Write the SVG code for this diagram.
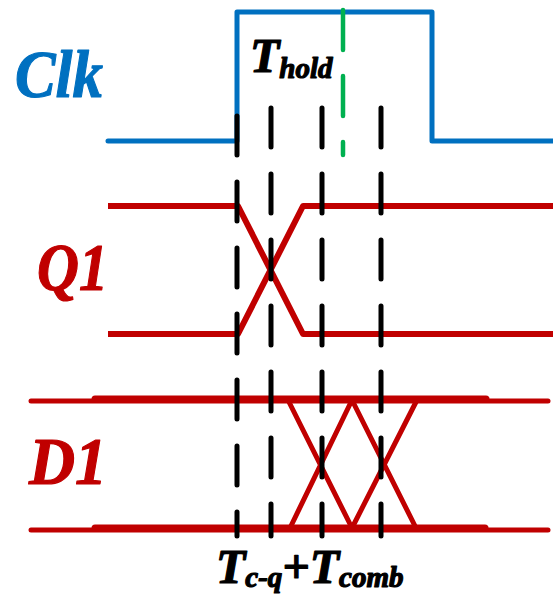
<svg xmlns="http://www.w3.org/2000/svg" width="553" height="594" viewBox="0 0 553 594">
<style>
  .lbl { font-family: "Liberation Serif", "Times New Roman", serif; font-weight: bold; font-style: italic; stroke-width: 1.2; stroke-linejoin: round; }
  .clk { fill: none; stroke: #0070C0; stroke-width: 5; stroke-linejoin: round; stroke-linecap: round; }
  .sig { fill: none; stroke: #C00000; stroke-width: 6; stroke-linejoin: round; stroke-linecap: butt; }
  .thin { fill: none; stroke: #C00000; stroke-width: 5; stroke-linecap: round; }
  .thick { fill: none; stroke: #C00000; stroke-width: 7; stroke-linecap: round; }
  .diag { fill: none; stroke: #C00000; stroke-width: 5; stroke-linejoin: round; }
  .mark { fill: none; stroke: #000000; stroke-width: 5; stroke-linecap: round; stroke-dasharray: 39 27; }
  .hold { fill: none; stroke: #00B050; stroke-width: 4.5; stroke-linecap: round; stroke-dasharray: 40 26; }
</style>
<rect width="553" height="594" fill="#ffffff"/>

<g id="clk">
  <text class="lbl" x="15" y="97" font-size="68" fill="#0070C0" stroke="#0070C0" textLength="88" lengthAdjust="spacingAndGlyphs">Clk</text>
  <path class="clk" d="M108,141 L237,141 L237,12 L432,12 L432,141 L553,141"/>
</g>

<g id="q1">
  <text class="lbl" x="37" y="290" font-size="68" fill="#C00000" stroke="#C00000" textLength="71" lengthAdjust="spacingAndGlyphs">Q1</text>
  <path class="sig" d="M108,206 L238,206 L303,334 L553,334"/>
  <path class="sig" d="M108,334 L238,334 L303,206 L553,206"/>
</g>

<g id="d1">
  <text class="lbl" x="29" y="484" font-size="68" fill="#C00000" stroke="#C00000" textLength="78" lengthAdjust="spacingAndGlyphs">D1</text>
  <line class="thin" x1="31" y1="401" x2="548" y2="401"/>
  <line class="thin" x1="31" y1="530" x2="548" y2="530"/>
  <line class="thick" x1="95" y1="399" x2="486" y2="399"/>
  <line class="thick" x1="95" y1="528" x2="485" y2="528"/>
  <path class="diag" d="M288,400 L352,528 L416,528 M290,528 L352,400 L417,400 M352,400 L416,528 M352,528 L417,400"/>
</g>

<g id="connectors">
  <line class="mark" x1="237" y1="112" x2="237" y2="536" stroke-dashoffset="-4"/>
  <line class="mark" x1="271" y1="108" x2="271" y2="536"/>
  <line class="mark" x1="322" y1="108" x2="322" y2="536"/>
  <line class="mark" x1="381" y1="108" x2="381" y2="536"/>
  <line class="hold" x1="343" y1="10" x2="343" y2="155"/>
</g>

<g id="labels">
  <text class="lbl" x="250" y="72" font-size="48" fill="#000000" stroke="#000000">T<tspan font-size="29" dy="6">hold</tspan></text>
  <text class="lbl" x="216" y="583" font-size="48" fill="#000000" stroke="#000000">T<tspan font-size="29" dy="4">c-q</tspan><tspan dy="-4">+T</tspan><tspan font-size="29" dy="4">comb</tspan></text>
</g>
</svg>
